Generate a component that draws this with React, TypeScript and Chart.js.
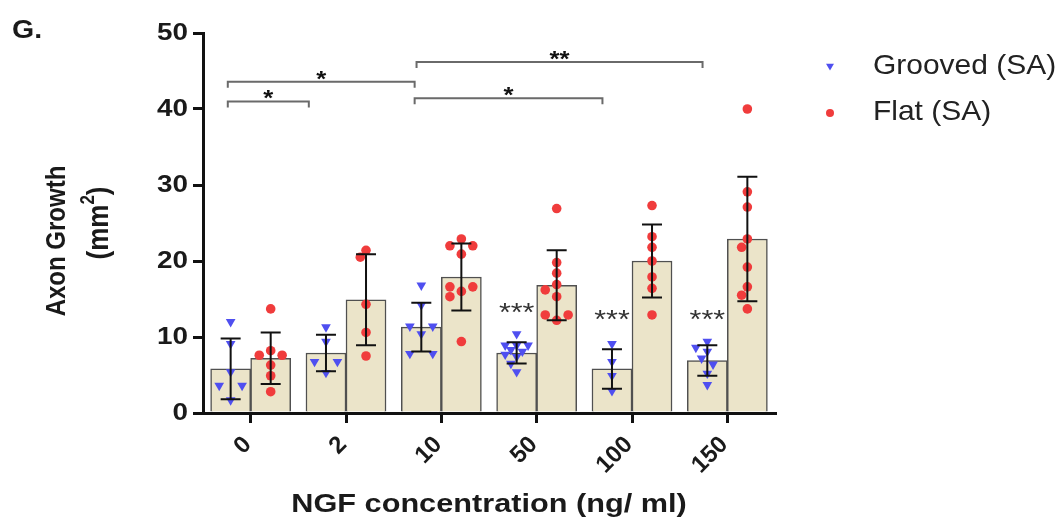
import React, { useEffect, useRef } from 'react';
import { Chart, registerables } from 'chart.js';

Chart.register(...registerables);

// ---------- data ----------
const categories = ['0', '2', '10', '50', '100', '150'];
const groovedMean = [5.8, 7.9, 11.3, 7.9, 5.8, 6.9];
const groovedSD = [4.0, 2.4, 3.2, 1.4, 2.6, 2.0];
const flatMean = [7.2, 14.9, 17.9, 16.8, 20.0, 22.9];
const flatSD = [3.4, 6.0, 4.4, 4.6, 4.8, 8.2];

const groovedPoints = [
  [12.0, 9.1, 5.4, 3.6, 3.6, 1.7],
  [11.3, 9.4, 6.75, 6.75, 5.3],
  [16.8, 14.2, 11.4, 11.4, 10.4, 7.8, 7.8],
  [10.4, 8.9, 8.9, 8.9, 8.3, 8.1, 7.7, 7.4, 6.5, 5.4],
  [9.1, 6.75, 4.9, 2.9],
  [9.4, 8.6, 8.1, 7.2, 6.4, 5.2, 3.7],
];
const flatPoints = [
  [13.7, 8.2, 7.6, 7.6, 6.3, 4.9, 2.8],
  [21.4, 20.5, 14.3, 10.6, 7.5],
  [22.9, 22.0, 22.0, 20.9, 16.6, 16.6, 16.0, 15.3, 9.4],
  [26.9, 19.8, 18.4, 16.9, 16.2, 15.3, 12.9, 12.9, 12.2],
  [27.3, 23.2, 21.8, 20.0, 17.9, 16.4, 12.9],
  [40.0, 29.1, 27.1, 22.9, 21.8, 19.2, 16.6, 15.5, 13.7],
];

// significance vs. grooved bars
const sigLabel = ['', '', '', '***', '***', '***'];
const sigLevel = [0, 0, 0, 14.1, 13.1, 13.1];

// comparison brackets (x in category units, y in data units)
const bracketFrom = [-0.24, -0.24, 1.74, 1.72];
const bracketTo = [0.61, 1.72, 4.74, 3.69];
const bracketLevel = [41.0, 43.6, 46.2, 41.4];
const bracketLabel = ['*', '*', '**', '*'];

const yTicks = [0, 10, 20, 30, 40, 50];

// ---------- styling ----------
const FONT = '"Liberation Sans", Arial, Helvetica, sans-serif';
const BAR_FILL = '#ebe4c9';
const BAR_EDGE = '#505050';
const BLUE = '#4f4ff0';
const RED = '#f03c3c';
const BAR_SHIFT = 0.21; // half of one bar's share of a category

function spreadOffsets(values: number[]): number[] {
  const pxX = 95.3, pxY = 7.6, minDist = 8.5;
  const order = values.map((_, i) => i).sort((a, b) => values[b] - values[a]);
  const offs = new Array(values.length).fill(0);
  const placed: { x: number; y: number }[] = [];
  let k = 0;
  while (k < order.length) {
    let j = k;
    while (j + 1 < order.length && Math.abs(values[order[j + 1]] - values[order[k]]) < 0.05) j++;
    const n = j - k + 1;
    if (n > 1) {
      const step = 0.24 / (n - 1);
      for (let m = 0; m < n; m++) {
        const o = (m - (n - 1) / 2) * step;
        offs[order[k + m]] = o;
        placed.push({ x: o, y: values[order[k + m]] });
      }
    } else {
      const v = values[order[k]];
      const cands = [0, -0.06, 0.06, -0.12, 0.12];
      let best = 0, bestD = -1;
      for (const c of cands) {
        const d = placed.length
          ? Math.min(...placed.map(p => Math.hypot((p.x - c) * pxX, (p.y - v) * pxY)))
          : Infinity;
        if (d >= minDist) { best = c; bestD = d; break; }
        if (d > bestD) { bestD = d; best = c; }
      }
      offs[order[k]] = best;
      placed.push({ x: best, y: v });
    }
    k = j + 1;
  }
  return offs;
}

function scatterData(groups: number[][], shift: number) {
  return groups.flatMap((vals, i) => {
    const o = spreadOffsets(vals);
    return vals.map((v, k) => ({ x: i + shift + o[k], y: v }));
  });
}

function barData(means: number[], shift: number) {
  return means.map((v, i) => ({ x: i + shift, y: v }));
}

type TxtOpt = { font: string; color?: string; align?: CanvasTextAlign; baseline?: CanvasTextBaseline; sx?: number; rot?: number };
function txt(ctx: CanvasRenderingContext2D, s: string, x: number, y: number, o: TxtOpt) {
  ctx.save();
  ctx.translate(x, y);
  ctx.scale(o.sx ?? 1, 1);
  ctx.rotate(o.rot ?? 0);
  ctx.font = o.font;
  ctx.fillStyle = o.color ?? '#1a1a1a';
  ctx.textAlign = o.align ?? 'left';
  ctx.textBaseline = o.baseline ?? 'alphabetic';
  ctx.fillText(s, 0, 0);
  ctx.restore();
}

const decor = {
  id: 'decor',
  afterDatasetsDraw(chart: any) {
    const ctx: CanvasRenderingContext2D = chart.ctx;
    const ys = chart.scales.y;
    const sets: [number[], number[]][] = [[groovedMean, groovedSD], [flatMean, flatSD]];
    sets.forEach(([m, s], di) => {
      const meta = chart.getDatasetMeta(di);
      meta.data.forEach((bar: any, i: number) => {
        const x = bar.x;
        const top = ys.getPixelForValue(m[i] + s[i]);
        const bot = ys.getPixelForValue(Math.max(0, m[i] - s[i]));
        ctx.save();
        ctx.strokeStyle = '#111';
        ctx.lineWidth = 2;
        ctx.beginPath();
        ctx.moveTo(x, top); ctx.lineTo(x, bot);
        ctx.moveTo(x - 10, top); ctx.lineTo(x + 10, top);
        ctx.moveTo(x - 10, bot); ctx.lineTo(x + 10, bot);
        ctx.stroke();
        ctx.restore();
      });
    });
  },
  afterDraw(chart: any) {
    const ctx: CanvasRenderingContext2D = chart.ctx;
    const xs = chart.scales.x;
    const ys = chart.scales.y;

    // y tick labels
    yTicks.forEach(v => {
      txt(ctx, String(v), 188, ys.getPixelForValue(v), { font: `bold 24px ${FONT}`, align: 'right', baseline: 'middle', sx: 1.16 });
    });
    // x tick labels
    categories.forEach((c, i) => {
      const px = xs.getPixelForValue(i);
      txt(ctx, c, px - 3, 441, { font: `bold 24px ${FONT}`, align: 'right', baseline: 'middle', rot: -Math.PI / 4 });
    });

    // axis titles
    txt(ctx, 'NGF concentration (ng/ ml)', (chart.chartArea.left + chart.chartArea.right) / 2, 512,
      { font: `bold 26px ${FONT}`, align: 'center', sx: 1.18 });
    txt(ctx, 'Axon Growth', 65, 241, { font: `bold 24px ${FONT}`, align: 'center', sx: 1.15, rot: -Math.PI / 2 });
    // (mm²) with superscript
    ctx.save();
    ctx.translate(108, 223);
    ctx.scale(1.15, 1);
    ctx.rotate(-Math.PI / 2);
    ctx.fillStyle = '#1a1a1a';
    ctx.textBaseline = 'alphabetic';
    ctx.textAlign = 'left';
    const mainF = `bold 26px ${FONT}`, supF = `bold 17px ${FONT}`;
    ctx.font = mainF; const w1 = ctx.measureText('(mm').width; const w3 = ctx.measureText(')').width;
    ctx.font = supF; const w2 = ctx.measureText('2').width;
    let sx0 = -(w1 + w2 + w3) / 2;
    ctx.font = mainF; ctx.fillText('(mm', sx0, 0); sx0 += w1;
    ctx.font = supF; ctx.fillText('2', sx0, -12); sx0 += w2;
    ctx.font = mainF; ctx.fillText(')', sx0, 0);
    ctx.restore();

    // panel letter
    txt(ctx, 'G.', 12, 38, { font: `bold 25px ${FONT}`, sx: 1.14 });

    // significance stars over grooved bars
    const gMeta = chart.getDatasetMeta(0);
    sigLabel.forEach((s, i) => {
      if (!s) return;
      const px = gMeta.data[i].x;
      const cy = ys.getPixelForValue(sigLevel[i]);
      txt(ctx, s, px, cy + 0.57 * 26, { font: `26px ${FONT}`, color: '#333', align: 'center', sx: 1.17 });
    });

    // brackets
    bracketFrom.forEach((f, i) => {
      const x1 = xs.getPixelForValue(f);
      const x2 = xs.getPixelForValue(bracketTo[i]);
      const yy = ys.getPixelForValue(bracketLevel[i]);
      ctx.save();
      ctx.strokeStyle = '#6a6a6a';
      ctx.lineWidth = 2;
      ctx.beginPath();
      ctx.moveTo(x1, yy + 6); ctx.lineTo(x1, yy); ctx.lineTo(x2, yy); ctx.lineTo(x2, yy + 6);
      ctx.stroke();
      ctx.restore();
      txt(ctx, bracketLabel[i], (x1 + x2) / 2, yy - 8.5 + 0.57 * 22, { font: `bold 22px ${FONT}`, color: '#111', align: 'center', sx: 1.17 });
    });

    // legend
    const legendItems = [chart.data.datasets[2], chart.data.datasets[3]];
    const rows = [66, 112];
    legendItems.forEach((ds: any, i: number) => {
      const cx = 830, cy = rows[i];
      ctx.save();
      ctx.fillStyle = ds.backgroundColor;
      ctx.beginPath();
      if (ds.pointStyle === 'triangle') {
        const r = 4.6;
        ctx.moveTo(cx, cy + r);
        ctx.lineTo(cx - r * 0.866, cy - r / 2);
        ctx.lineTo(cx + r * 0.866, cy - r / 2);
        ctx.closePath();
      } else {
        ctx.arc(cx, cy + 1, 4, 0, Math.PI * 2);
      }
      ctx.fill();
      ctx.restore();
      txt(ctx, ds.label, 873, cy, { font: `28px ${FONT}`, color: '#222', baseline: 'middle', sx: 1.07 });
    });
  },
};

export default function App() {
  const ref = useRef<HTMLCanvasElement | null>(null);
  useEffect(() => {
    if (!ref.current) return;
    const chart = new Chart(ref.current, {
      type: 'bar',
      data: {
        datasets: [
          {
            type: 'bar', label: 'Grooved mean', data: barData(groovedMean, -BAR_SHIFT),
            backgroundColor: BAR_FILL, borderColor: BAR_EDGE, borderWidth: 1.5,
            grouped: false, categoryPercentage: 1, barPercentage: 1, order: 3,
          },
          {
            type: 'bar', label: 'Flat mean', data: barData(flatMean, BAR_SHIFT),
            backgroundColor: BAR_FILL, borderColor: BAR_EDGE, borderWidth: 1.5,
            grouped: false, categoryPercentage: 1, barPercentage: 1, order: 3,
          },
          {
            type: 'scatter', label: 'Grooved (SA)', data: scatterData(groovedPoints, -BAR_SHIFT),
            showLine: false, pointStyle: 'triangle', rotation: 180, pointRadius: 5.6,
            backgroundColor: BLUE, borderColor: BLUE, borderWidth: 0, order: 1,
          },
          {
            type: 'scatter', label: 'Flat (SA)', data: scatterData(flatPoints, BAR_SHIFT),
            showLine: false, pointStyle: 'circle', pointRadius: 4.8,
            backgroundColor: RED, borderColor: RED, borderWidth: 0, order: 1,
          },
        ] as any,
      },
      options: {
        responsive: false,
        animation: false,
        devicePixelRatio: 1,
        layout: { padding: { left: 0, top: 33, right: 285, bottom: 0 } },
        plugins: { legend: { display: false }, tooltip: { enabled: false }, title: { display: false } },
        scales: {
          x: {
            type: 'linear', min: -0.5, max: 5.5, offset: false,
            afterBuildTicks: (s: any) => { s.ticks = categories.map((_, i) => ({ value: i })); },
            grid: { offset: false, drawOnChartArea: false, drawTicks: true, tickLength: 10, lineWidth: 3, color: '#111', tickColor: '#111' },
            border: { display: true, width: 3, color: '#111' },
            ticks: { display: false },
            afterFit: (s: any) => { s.height = 106; },
          },
          y: {
            type: 'linear', min: 0, max: 50,
            ticks: { display: false, stepSize: 10 },
            grid: { drawOnChartArea: false, drawTicks: true, tickLength: 10, lineWidth: 3, color: '#111', tickColor: '#111' },
            border: { display: true, width: 3, color: '#111' },
            afterFit: (s: any) => { s.width = 203; },
          },
        },
      } as any,
      plugins: [decor],
    });
    return () => chart.destroy();
  }, []);
  return (
    <div style={{ position: 'fixed', left: 0, top: 0, width: 1060, height: 519, background: '#fff' }}>
      <canvas ref={ref} width={1060} height={519} style={{ display: 'block' }} />
    </div>
  );
}
